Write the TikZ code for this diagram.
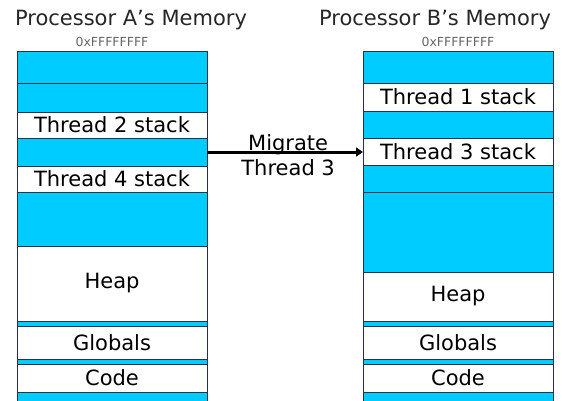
\documentclass[tikz,border=0pt]{standalone}
\usepackage{fontspec}
\setmainfont{DejaVu Sans}
\usetikzlibrary{arrows.meta}
\definecolor{memblue}{RGB}{0,204,255}
\definecolor{edgecol}{RGB}{40,50,70}
\tikzset{
  seg/.style={draw=edgecol, line width=0.8pt, minimum width=190pt, inner sep=0pt, outer sep=0pt, anchor=north west, font=\fontsize{21}{24}\selectfont},
  bseg/.style={seg, fill=memblue},
  wseg/.style={seg, fill=white},
  title/.style={font=\fontsize{21}{24}\selectfont, text=black!85, inner sep=0pt},
  hex/.style={font=\fontsize{12.5}{14}\selectfont, text=black!60, inner sep=0pt},
  migr/.style={-{Triangle[length=7pt,width=9pt]}, line width=3pt},
  lbl/.style={font=\fontsize{21}{24}\selectfont, inner sep=0pt, anchor=base}
}
\begin{document}
\begin{tikzpicture}[x=1pt,y=-1pt]
\useasboundingbox (0,0) rectangle (562,400);
\clip (0,0) rectangle (562,400);
% titles
\node[title] (ta) at (131,20) {Processor A’s Memory};
\node[title] (tb) at (435,20) {Processor B’s Memory};
\node[hex] (ha) at (112,42) {0xFFFFFFFF};
\node[hex] (hb) at (458,42) {0xFFFFFFFF};
% left column (Processor A)
\node[bseg, minimum height=32] (a1) at (17,51) {};
\node[bseg, minimum height=29] (a2) at (17,83) {};
\node[wseg, minimum height=26] (a3) at (17,112) {Thread 2 stack};
\node[bseg, minimum height=28] (a4) at (17,138) {};
\node[wseg, minimum height=26] (a5) at (17,166) {Thread 4 stack};
\node[bseg, minimum height=54] (a6) at (17,192) {};
\node[wseg, minimum height=75] (a7) at (17,246) {Heap};
\node[bseg, minimum height=5] (a8) at (17,321) {};
\node[wseg, minimum height=33] (a9) at (17,326) {Globals};
\node[bseg, minimum height=5] (a10) at (17,359) {};
\node[wseg, minimum height=28] (a11) at (17,364) {Code};
\node[bseg, minimum height=12] (a12) at (17,392) {};
% right column (Processor B)
\node[bseg, minimum height=32] (b1) at (363,51) {};
\node[wseg, minimum height=28] (b2) at (363,83) {Thread 1 stack};
\node[bseg, minimum height=27] (b3) at (363,111) {};
\node[wseg, minimum height=27] (b4) at (363,138) {Thread 3 stack};
\node[bseg, minimum height=27] (b5) at (363,165) {};
\node[bseg, minimum height=80] (b6) at (363,192) {};
\node[wseg, minimum height=49] (b7) at (363,272) {Heap};
\node[bseg, minimum height=5] (b8) at (363,321) {};
\node[wseg, minimum height=33] (b9) at (363,326) {Globals};
\node[bseg, minimum height=5] (b10) at (363,359) {};
\node[wseg, minimum height=28] (b11) at (363,364) {Code};
\node[bseg, minimum height=12] (b12) at (363,392) {};
% migration arrow
\coordinate (mend) at (a4.east -| b4.west);
\draw[migr] (a4.east) -- (mend)
  node[lbl, pos=0.52, yshift=2pt] (ml) {Migrate}
  node[lbl, pos=0.52, yshift=-23pt] (mt) {Thread 3};
\end{tikzpicture}
\end{document}
